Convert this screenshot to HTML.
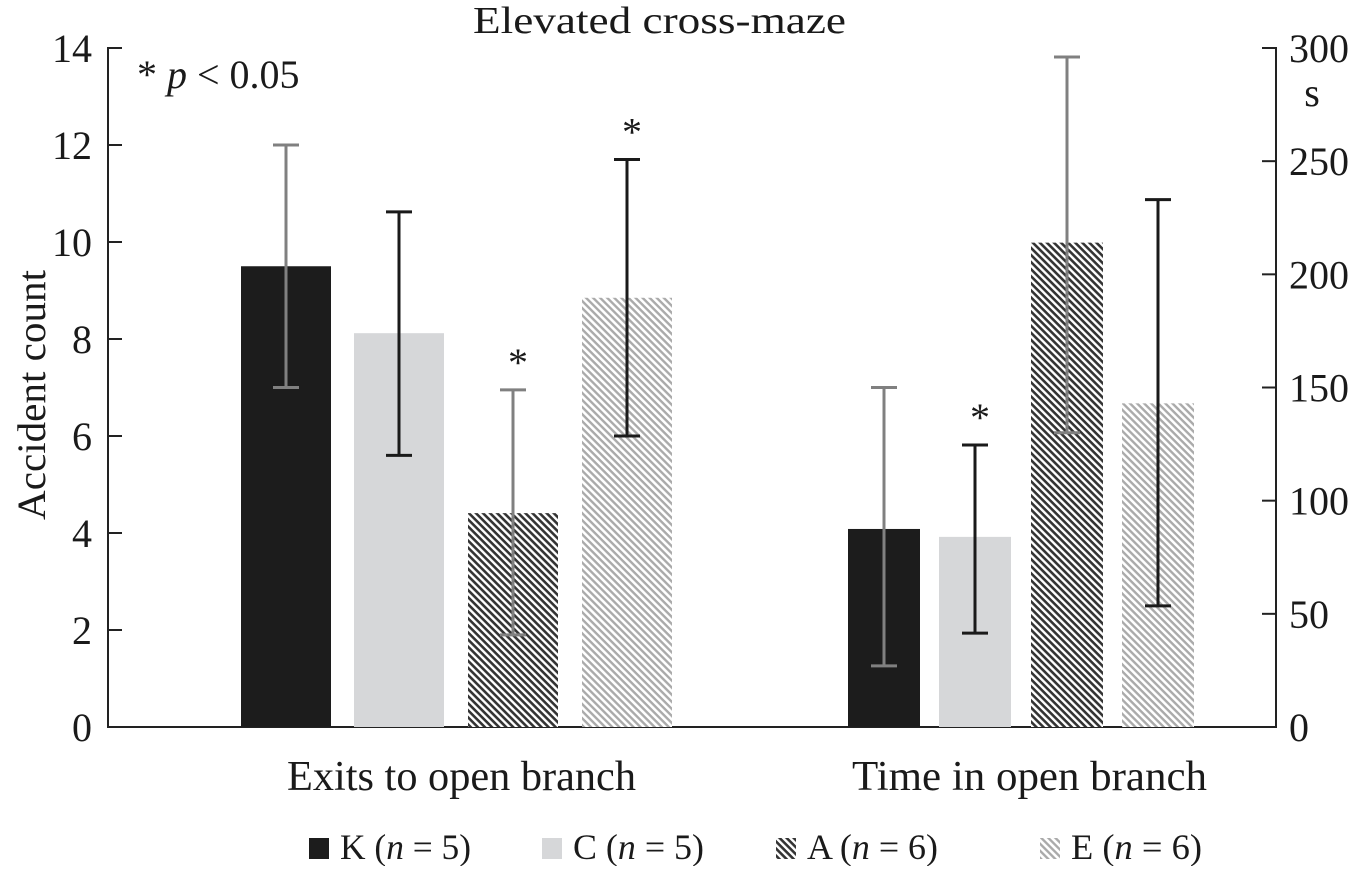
<!DOCTYPE html>
<html><head><meta charset="utf-8"><style>
body{margin:0;background:#fff}
svg text{font-family:"Liberation Serif",serif;fill:#1a1a1a}
</style></head><body>
<svg id="chart" width="1350" height="866">
<defs>
<pattern id="hatchA" width="5" height="5" patternUnits="userSpaceOnUse" patternTransform="rotate(45)"><rect width="5" height="5" fill="#fff"/><rect width="5" height="2.6" fill="#333"/></pattern>
<pattern id="hatchE" width="5" height="5" patternUnits="userSpaceOnUse" patternTransform="rotate(45)"><rect width="5" height="5" fill="#fff"/><rect width="5" height="2.4" fill="#aaa"/></pattern>
</defs>
<g id="g"></g>
</svg>
<script>
const groups=["Exits to open branch","Time in open branch"];
const seriesNames=["K","C","A","E"];
const nLabels=["5","5","6","6"];
const exitsVals=[9.5,8.12,4.41,8.85];
const exitsHi=[12.0,10.62,6.95,11.7];
const exitsLo=[7.0,5.6,1.9,6.0];
const timeVals=[87.5,84,214,143];
const timeHi=[150,124.6,296,233];
const timeLo=[27,41.5,130,53.5];
const leftTicks=[0,2,4,6,8,10,12,14];
const rightTicks=[0,50,100,150,200,250,300];
const sigExits=[false,false,true,true];
const sigTime=[false,true,false,false];

const NS="http://www.w3.org/2000/svg";
const g=document.getElementById('g');
function el(t,a,txt){const e=document.createElementNS(NS,t);for(const k in a)e.setAttribute(k,a[k]);if(txt!==undefined)e.textContent=txt;g.appendChild(e);return e;}
const y0=727,y1=48;
const yL=v=>y0-(v/14)*(y0-y1);
const yR=v=>y0-(v/300)*(y0-y1);
const fills=["#1c1c1c","#d6d7d9","url(#hatchA)","url(#hatchE)"];
const errColors=["#808080","#1a1a1a","#808080","#1a1a1a"];
const LX=108,RX=1276;

let e;
e=el('line',{x1:LX,y1:47,x2:LX,y2:728,stroke:'#222','stroke-width':2});

e=el('line',{x1:RX,y1:47,x2:RX,y2:728,stroke:'#222','stroke-width':2});

e=el('line',{x1:LX,y1:727,x2:RX,y2:727,stroke:'#222','stroke-width':2});

leftTicks.forEach(t=>{
  const y=yL(t);
  e=el('line',{x1:LX,y1:y,x2:LX+14,y2:y,stroke:'#222','stroke-width':2});
  
  e=el('text',{x:92,y:y+14,'text-anchor':'end','font-size':40},String(t));
  
});
rightTicks.forEach(t=>{
  const y=yR(t);
  e=el('line',{x1:RX-14,y1:y,x2:RX,y2:y,stroke:'#222','stroke-width':2});
  
  e=el('text',{x:1289,y:y+14,'font-size':40},String(t));
  
});
e=el('text',{x:1312,y:106,'font-size':40,'text-anchor':'middle'},'s');

e=el('text',{x:0,y:0,'font-size':40,'text-anchor':'middle',textLength:250,lengthAdjust:'spacingAndGlyphs',transform:'translate(45,395) rotate(-90)'},'Accident count');

e=el('text',{x:473,y:33,'font-size':38,textLength:373,lengthAdjust:'spacingAndGlyphs'},'Elevated cross-maze');

e=el('text',{x:137,y:88,'font-size':40},'');
e.innerHTML='* <tspan font-style="italic">p</tspan> &lt; 0.05';


function drawGroup(vals,hi,lo,sig,scale,centers,w,name){
  vals.forEach((v,i)=>{
    const cx=centers[i],top=scale(v);
    let r=el('rect',{x:cx-w/2,y:top,width:w,height:y0-top,fill:fills[i]});
    
    
    const yh=scale(hi[i]),yl=scale(lo[i]),c=errColors[i];
    let l=el('line',{x1:cx,y1:yh,x2:cx,y2:yl,stroke:c,'stroke-width':3});
    
    
    [yh,yl].forEach(yy=>{
      let cap=el('line',{x1:cx-13,y1:yy,x2:cx+13,y2:yy,stroke:c,'stroke-width':3});
      
      
    });
    if(sig[i]){
      let s=el('text',{x:cx+5,y:yh-14,'font-size':40,'text-anchor':'middle'},'*');
      
      
    }
  });
}
drawGroup(exitsVals,exitsHi,exitsLo,sigExits,yL,[286,399,513,627],90,'exits');
drawGroup(timeVals,timeHi,timeLo,sigTime,yR,[884,975,1067,1158],72,'time');

e=el('text',{x:287,y:790,'font-size':42,textLength:349,lengthAdjust:'spacingAndGlyphs'},groups[0]);

e=el('text',{x:852,y:790,'font-size':42,textLength:355,lengthAdjust:'spacingAndGlyphs'},groups[1]);


const legX=[309,542,776,1040];
seriesNames.forEach((s,i)=>{
  let r=el('rect',{x:legX[i],y:838,width:20,height:21,fill:fills[i]});
  
  
  let t=el('text',{x:legX[i]+31,y:859,'font-size':36,textLength:131,lengthAdjust:'spacingAndGlyphs'},'');
  t.innerHTML=s+' (<tspan font-style="italic">n</tspan> = '+nLabels[i]+')';
  
  
});
</script>
</body></html>
